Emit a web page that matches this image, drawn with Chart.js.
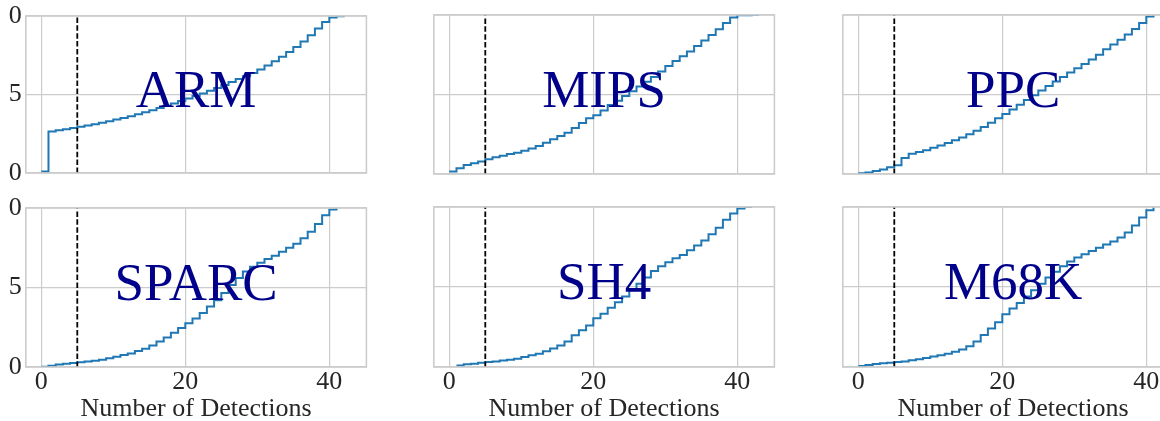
<!DOCTYPE html>
<html>
<head>
<meta charset="utf-8">
<script src="https://cdn.jsdelivr.net/npm/chart.js@4.4.1/dist/chart.umd.min.js"></script>
<style>
html,body{margin:0;padding:0;width:1160px;height:421px;overflow:hidden;background:#ffffff;position:relative}
canvas{position:absolute}
</style>
</head>
<body>
<script>
// ---- data (index = number of detections) ----
const architectures = ['ARM', 'MIPS', 'PPC', 'SPARC', 'SH4', 'M68K'];
const armValues   = [0.01,0.265,0.272,0.279,0.287,0.295,0.303,0.311,0.32,0.33,0.34,0.351,0.362,0.374,0.387,0.40,0.414,0.428,0.443,0.458,0.474,0.49,0.507,0.524,0.542,0.56,0.579,0.598,0.617,0.637,0.66,0.685,0.712,0.74,0.77,0.802,0.838,0.877,0.92,0.962,0.99,0.998,1.0];
const mipsValues  = [0.015,0.036,0.057,0.067,0.078,0.092,0.105,0.115,0.126,0.134,0.147,0.161,0.176,0.197,0.218,0.239,0.26,0.29,0.32,0.35,0.37,0.40,0.434,0.46,0.49,0.52,0.55,0.58,0.61,0.645,0.68,0.71,0.74,0.77,0.805,0.84,0.875,0.91,0.95,0.985,0.998,0.999,1.0,1.0];
const ppcValues   = [0.004,0.01,0.019,0.029,0.042,0.055,0.1,0.128,0.138,0.15,0.165,0.18,0.195,0.212,0.23,0.25,0.272,0.296,0.322,0.35,0.377,0.405,0.435,0.465,0.495,0.525,0.553,0.582,0.61,0.638,0.665,0.692,0.72,0.75,0.785,0.815,0.845,0.877,0.912,0.95,0.99,1.0];
const sparcValues = [0.002,0.008,0.015,0.02,0.025,0.03,0.035,0.04,0.045,0.055,0.065,0.075,0.085,0.1,0.115,0.135,0.16,0.185,0.215,0.245,0.275,0.305,0.34,0.38,0.42,0.465,0.515,0.56,0.6,0.63,0.655,0.68,0.7,0.725,0.75,0.775,0.81,0.85,0.9,0.955,0.99,1.0];
const sh4Values   = [null,0.01,0.017,0.021,0.027,0.031,0.035,0.04,0.046,0.052,0.063,0.073,0.083,0.098,0.115,0.135,0.16,0.198,0.23,0.26,0.305,0.333,0.37,0.405,0.44,0.48,0.52,0.56,0.6,0.63,0.655,0.68,0.7,0.73,0.76,0.79,0.83,0.87,0.92,0.96,0.99,1.0,1.0];
const m68kValues  = [0.006,0.013,0.019,0.023,0.027,0.031,0.035,0.042,0.048,0.056,0.065,0.073,0.083,0.095,0.11,0.13,0.16,0.2,0.24,0.28,0.33,0.365,0.4,0.44,0.48,0.52,0.56,0.595,0.63,0.66,0.685,0.705,0.725,0.745,0.765,0.785,0.81,0.84,0.885,0.935,0.98,1.0];
const thresholdX = 5;
const xTickValues = [0, 20, 40];
const xTickLabels = ['0', '20', '40'];
const yTickValues = [0, 0.5, 1];
const yTickLabels = ['0', '5', '0'];
const xAxisTitle = 'Number of Detections';

const seriesList = [armValues, mipsValues, ppcValues, sparcValues, sh4Values, m68kValues];

// ---- layout ----
const FONT = "'Liberation Serif', 'Times New Roman', serif";
const TEXT_COLOR = '#262626';
const colLeft = [25.8, 433.8, 842.8];
const rowTop = [15, 207];
const rowBottom = [174, 367];
const plotW = 340.6;
const X_MIN = -2.15, X_MAX = 45.15;
const PAD = 16;
const X_AXIS_H = 55;
const Y_AXIS_W = 30;

const framePlugin = {
  id: 'frameAndLabel',
  afterDatasetsDraw(chart, args, opts) {
    const a = chart.chartArea, ctx = chart.ctx;
    ctx.save();
    ctx.strokeStyle = '#cccccc';
    ctx.lineWidth = 1.6;
    ctx.strokeRect(a.left, a.top, a.right - a.left, a.bottom - a.top);
    ctx.fillStyle = '#00008b';
    ctx.font = "53px " + FONT;
    ctx.textAlign = 'center';
    ctx.textBaseline = 'alphabetic';
    ctx.fillText(opts.name, (a.left + a.right) / 2, (a.top + a.bottom) / 2 + 12);
    ctx.restore();
  }
};

architectures.forEach((name, i) => {
  const col = i % 3, row = Math.floor(i / 3);
  const plotLeft = colLeft[col];
  const plotH = rowBottom[row] - rowTop[row];
  const cx = Math.floor(plotLeft) - 40;
  const yW = col === 0 ? Y_AXIS_W : 0;
  const padL = plotLeft - cx - yW;
  const cy = rowTop[row] - PAD;
  const W = Math.ceil(plotLeft + plotW + PAD) - cx;
  const padR = W - (plotLeft - cx) - plotW;
  const xH = row === 1 ? X_AXIS_H : 0;
  const H = Math.ceil(PAD + plotH + xH + (row === 1 ? 3 : PAD));
  const padB = H - PAD - plotH - xH;

  const canvas = document.createElement('canvas');
  canvas.width = W; canvas.height = H;
  canvas.style.left = cx + 'px'; canvas.style.top = cy + 'px';
  canvas.style.width = W + 'px'; canvas.style.height = H + 'px';
  document.body.appendChild(canvas);

  const values = seriesList[i];
  const points = [];
  values.forEach((v, k) => { if (v !== null) points.push({x: k, y: v}); });

  new Chart(canvas, {
    type: 'line',
    data: {
      datasets: [
        {
          label: 'threshold',
          data: [{x: thresholdX, y: 0}, {x: thresholdX, y: 1}],
          borderColor: '#000000',
          borderWidth: 1.8,
          borderDash: [5.5, 2.4],
          pointRadius: 0,
          fill: false,
          order: 0
        },
        {
          label: name,
          data: points,
          borderColor: '#1f77b4',
          borderWidth: 2,
          stepped: 'before',
          pointRadius: 0,
          fill: false,
          order: 1
        }
      ]
    },
    options: {
      responsive: false,
      animation: false,
      devicePixelRatio: 1,
      layout: {padding: {left: padL, right: padR, top: PAD, bottom: padB}},
      plugins: {
        legend: {display: false},
        tooltip: {enabled: false},
        frameAndLabel: {name: name}
      },
      scales: {
        x: {
          type: 'linear',
          min: X_MIN, max: X_MAX,
          afterBuildTicks: s => { s.ticks = xTickValues.map(v => ({value: v})); },
          afterFit: s => { s.height = xH; },
          grid: {color: '#cccccc', lineWidth: 1.2, drawTicks: false},
          border: {display: false},
          ticks: {
            display: row === 1,
            padding: 2,
            color: TEXT_COLOR,
            font: {family: FONT, size: 26, lineHeight: 1},
            maxRotation: 0,
            callback: v => xTickLabels[xTickValues.indexOf(v)]
          },
          title: {
            display: row === 1,
            text: xAxisTitle,
            color: TEXT_COLOR,
            font: {family: FONT, size: 26, lineHeight: 1},
            padding: {top: 0, bottom: 0}
          }
        },
        y: {
          type: 'linear',
          min: 0, max: 1,
          afterBuildTicks: s => { s.ticks = yTickValues.map(v => ({value: v})); },
          afterFit: s => { s.width = yW; },
          grid: {color: '#cccccc', lineWidth: 1.2, drawTicks: false},
          border: {display: false},
          ticks: {
            display: col === 0,
            padding: 4,
            color: TEXT_COLOR,
            font: {family: FONT, size: 26, lineHeight: 1},
            callback: v => yTickLabels[yTickValues.indexOf(v)]
          }
        }
      }
    },
    plugins: [framePlugin]
  });
});
</script>
</body>
</html>
